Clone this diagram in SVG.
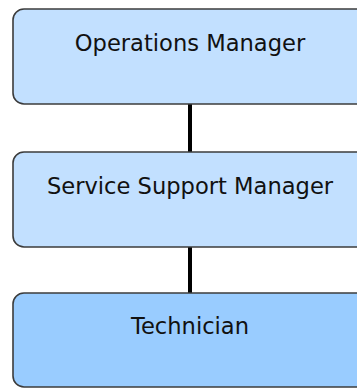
<svg xmlns="http://www.w3.org/2000/svg" width="357" height="388" viewBox="0 0 357 388">
<style>
.box{stroke:#3c3c3c;stroke-width:1.6}
.l1{fill:#c2e0ff}
.l2{fill:#99ccff}
.t{font-family:"DejaVu Sans",Verdana,sans-serif;font-size:22.6px;fill:#111;text-anchor:middle}
.c{stroke:#000;stroke-width:4;fill:none}
</style>
<rect width="357" height="388" fill="#fff"/>
<g id="connectors">
<line class="c" x1="190" y1="104" x2="190" y2="152"/>
<line class="c" x1="190" y1="247" x2="190" y2="293"/>
</g>
<g id="operations-manager">
<rect class="box l1" x="13" y="9" width="354" height="95" rx="11"/>
<text class="t" x="190" y="51">Operations Manager</text>
</g>
<g id="service-support-manager">
<rect class="box l1" x="13" y="152" width="354" height="95" rx="11"/>
<text class="t" x="190" y="194">Service Support Manager</text>
</g>
<g id="technician">
<rect class="box l2" x="13" y="293" width="354" height="94" rx="11"/>
<text class="t" x="190" y="334">Technician</text>
</g>
</svg>
